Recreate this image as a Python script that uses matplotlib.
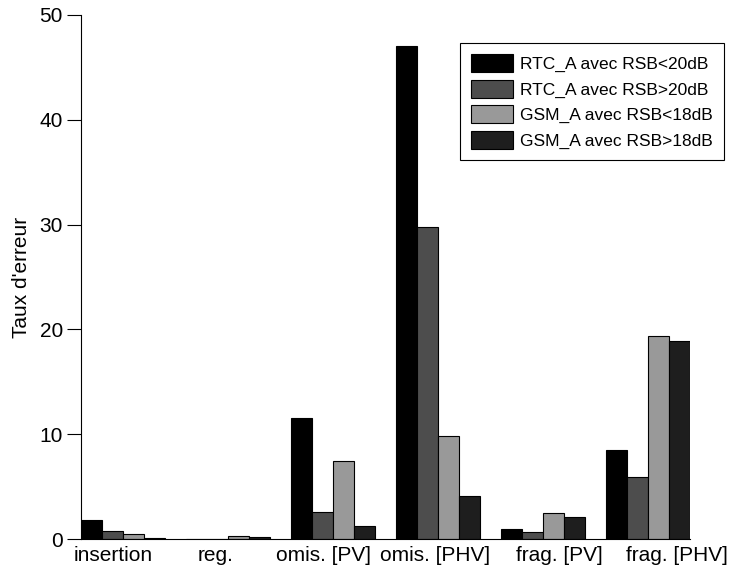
import numpy as np
import matplotlib.pyplot as plt

plt.rcParams['font.family'] = ['Liberation Sans', 'DejaVu Sans']

categories = ['insertion', 'reg.', 'omis. [PV]', 'omis. [PHV]', 'frag. [PV]', 'frag. [PHV]']
series = ['RTC_A avec RSB<20dB', 'RTC_A avec RSB>20dB',
          'GSM_A avec RSB<18dB', 'GSM_A avec RSB>18dB']
rtc_low = [1.8, 0.05, 11.6, 47.0, 1.0, 8.5]
rtc_high = [0.75, 0.05, 2.6, 29.8, 0.65, 5.9]
gsm_low = [0.45, 0.28, 7.5, 9.8, 2.5, 19.4]
gsm_high = [0.1, 0.18, 1.3, 4.1, 2.1, 18.9]
colors = ['#000000', '#4d4d4d', '#999999', '#1e1e1e']
# label positions drift a little from the group centres in the original
label_shift = [-0.09, -0.12, -0.09, -0.03, 0.16, 0.28]

fig = plt.figure(figsize=(7.3, 5.76), dpi=100)
ax = fig.add_axes([0.111, 0.064, 0.834, 0.910])

x = np.arange(len(categories))
w = 0.2
for i, vals in enumerate([rtc_low, rtc_high, gsm_low, gsm_high]):
    ax.bar(x - 0.4 + w * i, vals, width=w, align='edge', color=colors[i],
           edgecolor='black', linewidth=0.8, label=series[i])

ax.set_xlim(-0.4, len(categories) - 1 + 0.4)
ax.set_ylim(0, 50)
ax.set_yticks([0, 10, 20, 30, 40, 50])
ax.set_xticks(x + np.array(label_shift))
ax.set_xticklabels(categories, fontsize=15)
ax.tick_params(axis='x', length=0, pad=5)
ax.tick_params(axis='y', direction='out', length=10, pad=3, labelsize=15)
ax.spines['top'].set_visible(False)
ax.spines['right'].set_visible(False)
ax.set_ylabel("Taux d'erreur", fontsize=15, labelpad=6)

leg = ax.legend(loc='upper right', bbox_to_anchor=(1.056, 0.947), borderaxespad=0,
                fontsize=12.5, handlelength=2.4, handleheight=1.2, fancybox=False,
                framealpha=1, edgecolor='black', labelspacing=0.45,
                handletextpad=0.4, borderpad=0.65)
leg.get_frame().set_linewidth(0.8)

plt.savefig('out.png', dpi=100)
